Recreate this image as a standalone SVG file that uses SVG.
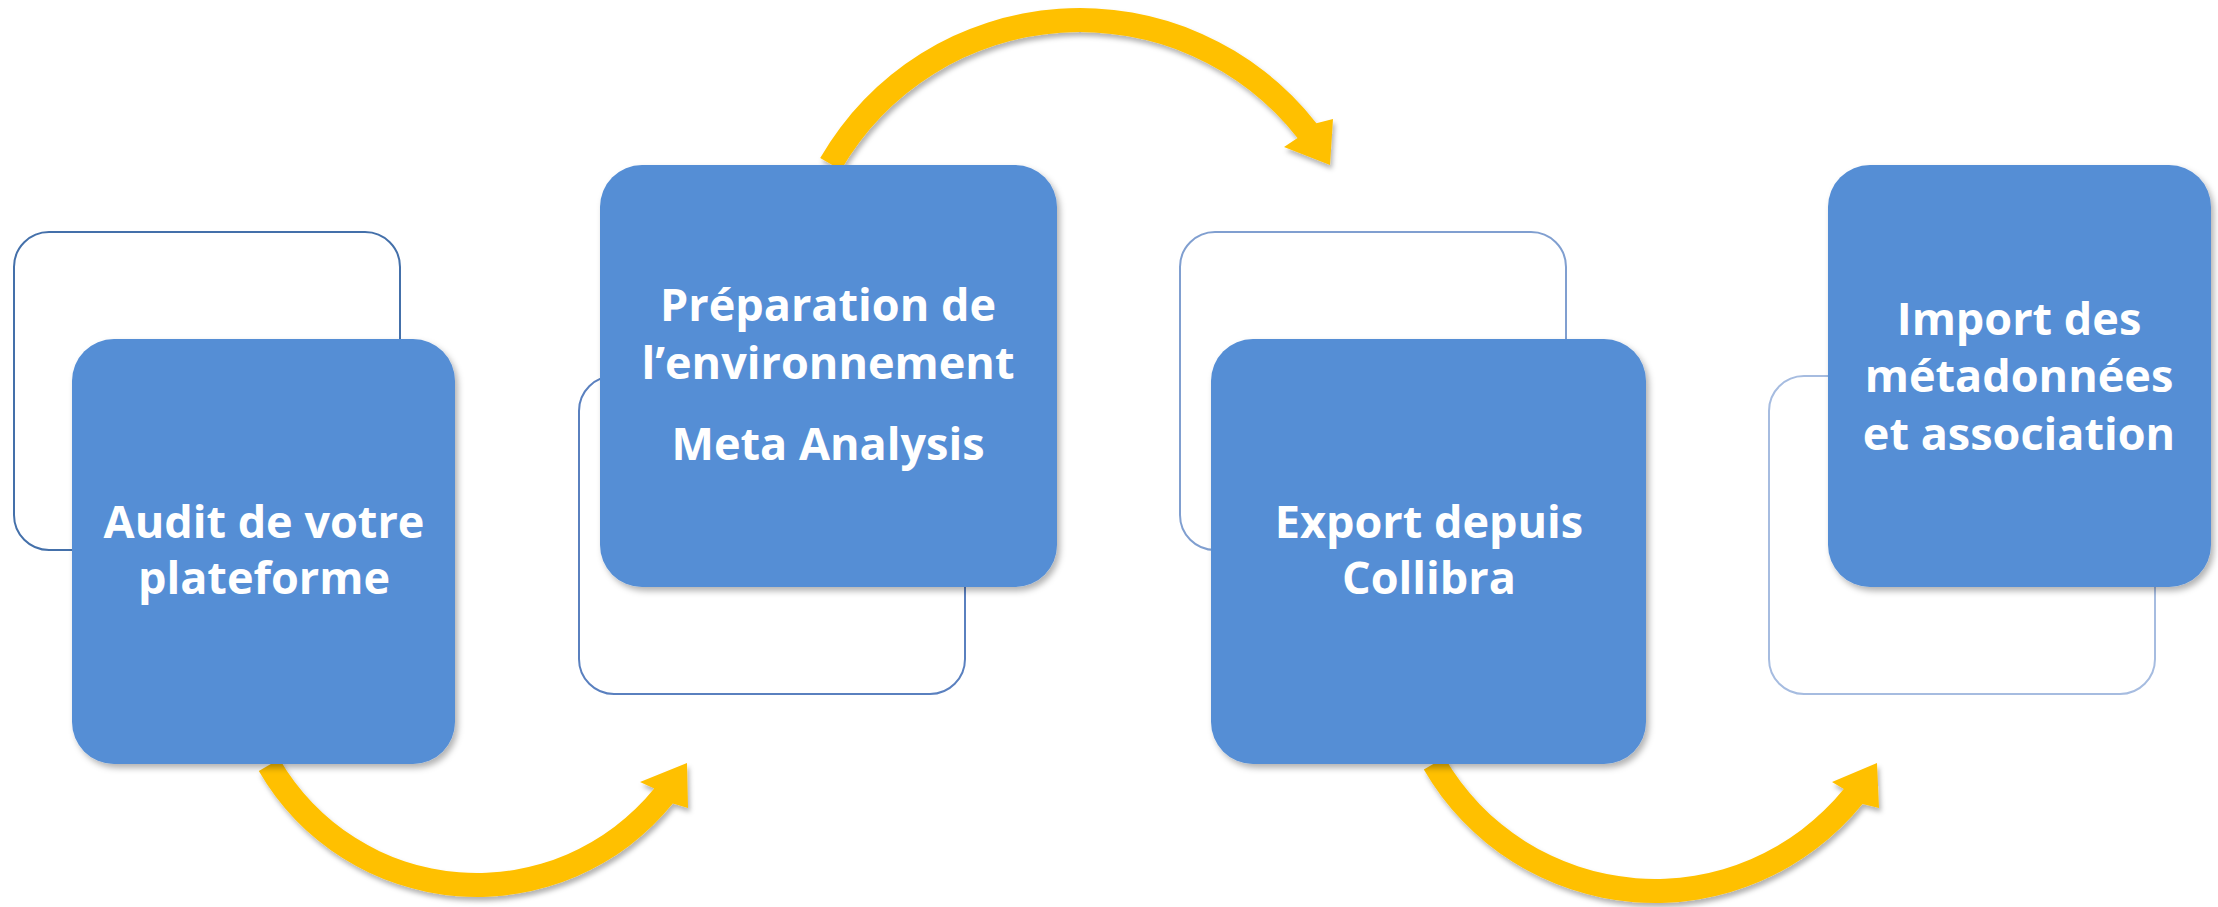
<svg xmlns="http://www.w3.org/2000/svg" width="2218" height="907" viewBox="0 0 2218 907">
  <style>
    .outline { fill: #FFFFFF; stroke-width: 2; }
    .box { fill: #558ED5; }
    .label { font-family: "Open Sans", "Noto Sans", "Liberation Sans", sans-serif; font-weight: 700; font-size: 45px; fill: #FFFFFF; text-anchor: middle; }
    .arrow { fill: #FFC000; }
  </style>
  <defs>
    <filter id="shadow" x="-10%" y="-10%" width="125%" height="125%">
      <feDropShadow dx="3" dy="4" stdDeviation="3" flood-color="#000000" flood-opacity="0.3"/>
    </filter>
    <filter id="ashadow" x="-10%" y="-20%" width="125%" height="140%">
      <feDropShadow dx="2" dy="4" stdDeviation="2.5" flood-color="#000000" flood-opacity="0.3"/>
    </filter>
  </defs>
  <rect width="2218" height="907" fill="#FFFFFF"/>

  <g id="connectors">
    <path class="arrow" filter="url(#ashadow)" d="M 258.8,771 A 252 252 0 0 0 672.8,803.6 L 688,808 L 687,763 L 640,782 L 654.2,788.5 A 228 228 0 0 1 279.5,759 Z"/>
    <path class="arrow" filter="url(#ashadow)" d="M 820.2,158 A 300 300 0 0 1 1316.4,123.3 L 1333,119 L 1330,165 L 1284,147 L 1297.5,138.1 A 276 276 0 0 0 841,170 Z"/>
    <path class="arrow" filter="url(#ashadow)" d="M 1423.8,769.5 A 267 267 0 0 0 1862.5,804 L 1879,808 L 1877,763 L 1832,782 L 1843.8,788.9 A 243 243 0 0 1 1444.6,757.5 Z"/>
  </g>

  <g id="node1">
    <rect class="outline" x="14" y="232" width="386" height="318" rx="35" ry="35" stroke="#4470AA"/>
    <rect class="box" filter="url(#shadow)" x="72" y="339" width="383" height="425" rx="42" ry="42"/>
    <text class="label" x="264" y="538">Audit de votre</text>
    <text class="label" x="264" y="594">plateforme</text>
  </g>

  <g id="node2">
    <rect class="outline" x="579" y="376" width="386" height="318" rx="35" ry="35" stroke="#5A80BF"/>
    <rect class="box" filter="url(#shadow)" x="600" y="165" width="457" height="422" rx="42" ry="42"/>
    <text class="label" x="828" y="321">Préparation de</text>
    <text class="label" x="828" y="379">l’environnement</text>
    <text class="label" x="828" y="460">Meta Analysis</text>
  </g>

  <g id="node3">
    <rect class="outline" x="1180" y="232" width="386" height="318" rx="35" ry="35" stroke="#809FD0"/>
    <rect class="box" filter="url(#shadow)" x="1211" y="339" width="435" height="425" rx="42" ry="42"/>
    <text class="label" x="1429" y="538">Export depuis</text>
    <text class="label" x="1429" y="594">Collibra</text>
  </g>

  <g id="node4">
    <rect class="outline" x="1769" y="376" width="386" height="318" rx="35" ry="35" stroke="#A6BCE0"/>
    <rect class="box" filter="url(#shadow)" x="1828" y="165" width="383" height="422" rx="42" ry="42"/>
    <text class="label" x="2019" y="335">Import des</text>
    <text class="label" x="2019" y="392">métadonnées</text>
    <text class="label" x="2019" y="450">et association</text>
  </g>
</svg>
